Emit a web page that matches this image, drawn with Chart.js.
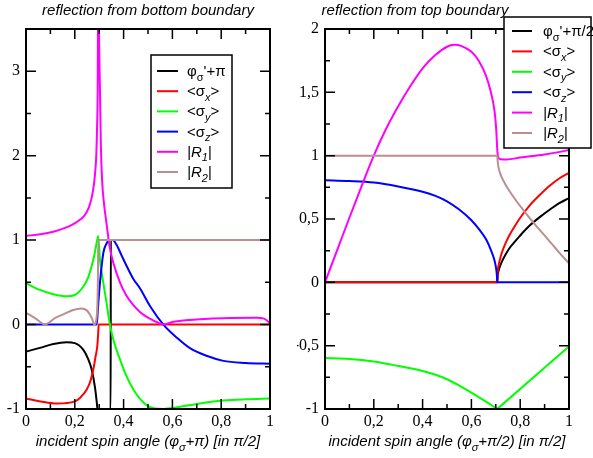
<!DOCTYPE html>
<html>
<head>
<meta charset="utf-8">
<script src="https://cdn.jsdelivr.net/npm/chart.js@4.4.1/dist/chart.umd.min.js"></script>
<style>
    body { margin: 0; background: #ffffff; }
    canvas { position: absolute; top: 0; }
    #bottomChart { left: 0; }
    #topChart { left: 297px; }
</style>
</head>
<body>
<canvas id="bottomChart" width="297" height="458"></canvas>
<canvas id="topChart" width="296" height="458"></canvas>
<script>
// TICKS
const xTicks = [0, 0.2, 0.4, 0.6, 0.8, 1];
const bottomYTicks = [-1, 0, 1, 2, 3];
const topYTicks = [-1, -0.5, 0, 0.5, 1, 1.5, 2];

// DATA - reflection from bottom boundary  [x, y]
const bottomPhase = [[0,-0.32],[0.057,-0.276],[0.112,-0.23],[0.167,-0.21],[0.2,-0.22],[0.235,-0.3],[0.255,-0.41],[0.269,-0.53],[0.283,-0.75],[0.29,-0.92],[0.293,-1],[0.347,-1],[0.3475,1],[1,1]];
const bottomSx = [[0,-0.876],[0.06,-0.91],[0.126,-0.935],[0.2,-0.91],[0.221,-0.87],[0.249,-0.77],[0.265,-0.66],[0.276,-0.53],[0.285,-0.38],[0.292,-0.26],[0.296,-0.1],[0.298,0],[1,0]];
const bottomSy = [[0,0.49],[0.057,0.41],[0.112,0.36],[0.167,0.335],[0.2,0.35],[0.235,0.45],[0.255,0.56],[0.269,0.69],[0.28,0.82],[0.287,0.93],[0.293,1.02],[0.296,1.05],[0.303,0.77],[0.317,0.49],[0.33,0.26],[0.344,0],[0.36,-0.2],[0.385,-0.41],[0.41,-0.6],[0.44,-0.77],[0.47,-0.89],[0.501,-0.97],[0.53,-0.995],[0.563,-1.0],[0.62,-0.98],[0.7,-0.94],[0.81,-0.9],[0.9,-0.885],[1,-0.876]];
const bottomSz = [[0,0],[0.29,0],[0.295,0.2],[0.303,0.49],[0.317,0.85],[0.33,0.96],[0.345,1.0],[0.355,1.0],[0.37,0.95],[0.39,0.83],[0.413,0.69],[0.44,0.54],[0.467,0.43],[0.508,0.22],[0.563,0],[0.62,-0.16],[0.672,-0.28],[0.74,-0.37],[0.809,-0.43],[0.9,-0.455],[1,-0.465]];
const bottomR1 = [[0,1.05],[0.06,1.07],[0.112,1.1],[0.16,1.145],[0.194,1.19],[0.221,1.24],[0.242,1.3],[0.258,1.39],[0.269,1.5],[0.278,1.65],[0.284,1.82],[0.288,2.0],[0.291,2.3],[0.294,2.85],[0.2965,4.5],[0.299,3.5],[0.303,2.8],[0.307,2.1],[0.312,1.7],[0.319,1.45],[0.328,1.24],[0.336,1.06],[0.344,0.9],[0.36,0.71],[0.385,0.5],[0.41,0.35],[0.44,0.23],[0.467,0.15],[0.49,0.1],[0.508,0.07],[0.535,0.03],[0.563,0],[0.6,0.03],[0.672,0.055],[0.809,0.075],[0.945,0.08],[0.975,0.07],[0.993,0.035],[1,0.01]];
const bottomR2 = [[0,0.14],[0.04,0.07],[0.078,0],[0.12,0.08],[0.153,0.12],[0.19,0.17],[0.228,0.19],[0.25,0.165],[0.262,0.12],[0.272,0.06],[0.279,0],[0.29,0.1],[0.295,0.6],[0.296,1],[1,1]];

// DATA - reflection from top boundary  [x, y]
const topPhase = [[0,0],[0.706,0],[0.708,0.06],[0.712,0.095],[0.717,0.125],[0.724,0.16],[0.74,0.22],[0.758,0.275],[0.78,0.325],[0.8,0.37],[0.84,0.45],[0.88,0.515],[0.922,0.575],[0.96,0.625],[1,0.665]];
const topSx = [[0,0],[0.706,0],[0.708,0.09],[0.712,0.14],[0.717,0.18],[0.724,0.23],[0.74,0.31],[0.758,0.38],[0.78,0.45],[0.8,0.51],[0.84,0.61],[0.88,0.69],[0.922,0.765],[0.96,0.82],[1,0.864]];
const topSy = [[0,-0.598],[0.1,-0.605],[0.2,-0.625],[0.3,-0.66],[0.4,-0.7],[0.45,-0.728],[0.5,-0.765],[0.55,-0.815],[0.6,-0.87],[0.65,-0.93],[0.69,-0.98],[0.703,-0.997],[0.706,-1],[0.709,-0.995],[1,-0.506]];
const topSz = [[0,0.806],[0.1,0.8],[0.2,0.788],[0.3,0.757],[0.4,0.715],[0.45,0.685],[0.5,0.64],[0.55,0.575],[0.6,0.49],[0.635,0.41],[0.66,0.34],[0.68,0.255],[0.695,0.17],[0.702,0.1],[0.705,0.04],[0.706,0],[1,0]];
const topR1 = [[0,0],[0.05,0.255],[0.1,0.51],[0.15,0.76],[0.2,1.0],[0.25,1.21],[0.3,1.39],[0.35,1.55],[0.4,1.69],[0.45,1.79],[0.5,1.86],[0.53,1.875],[0.56,1.865],[0.6,1.82],[0.63,1.75],[0.66,1.63],[0.68,1.5],[0.695,1.35],[0.702,1.2],[0.706,1.05],[0.71,0.985],[0.72,0.972],[0.745,0.97],[0.8,0.985],[0.9,1.01],[0.963,1.03],[1,1.045]];
const topR2 = [[0,1],[0.706,1],[0.708,0.95],[0.712,0.9],[0.718,0.86],[0.724,0.83],[0.74,0.77],[0.758,0.715],[0.785,0.64],[0.813,0.57],[0.84,0.505],[0.868,0.44],[0.9,0.37],[0.922,0.32],[0.96,0.235],[1,0.15]];

const colors = ["#000000", "#ff0000", "#00ff00", "#0000ff", "#ff00ff", "#bc8f8f"];

// LABELS (parts: t = text, sub = subscript, it = italic)
const pSx = [{ t: "<σ" }, { t: "x", sub: true, it: true }, { t: ">" }];
const pSy = [{ t: "<σ" }, { t: "y", sub: true, it: true }, { t: ">" }];
const pSz = [{ t: "<σ" }, { t: "z", sub: true, it: true }, { t: ">" }];
const pR1 = [{ t: "|R", it: true }, { t: "1", sub: true, it: true }, { t: "|", it: true }];
const pR2 = [{ t: "|R", it: true }, { t: "2", sub: true, it: true }, { t: "|", it: true }];
const bottomLegend = [[{ t: "φ" }, { t: "σ", sub: true }, { t: "'+π" }], pSx, pSy, pSz, pR1, pR2];
const topLegend = [[{ t: "φ" }, { t: "σ", sub: true }, { t: "'+π/2" }], pSx, pSy, pSz, pR1, pR2];
const bottomXTitle = [{ t: "incident spin angle (φ", it: true }, { t: "σ", sub: true, it: true }, { t: "+π) [in π/2]", it: true }];
const topXTitle = [{ t: "incident spin angle (φ", it: true }, { t: "σ", sub: true, it: true }, { t: "+π/2) [in π/2]", it: true }];

// TEXT HELPER
function richText(ctx, parts, x, y, size, align) {
    const fontFor = (p) => `${p.it ? "italic " : ""}${p.sub ? Math.round(size * 0.7) : size}px "Liberation Sans", Arial, sans-serif`;
    let total = 0;
    const widths = parts.map((p) => {
        ctx.font = fontFor(p);
        const w = ctx.measureText(p.t).width;
        total += w;
        return w;
    });
    let cx = align === "center" ? x - total / 2 : x;
    ctx.textAlign = "left";
    ctx.textBaseline = "alphabetic";
    parts.forEach((p, i) => {
        ctx.font = fontFor(p);
        ctx.fillText(p.t, cx, p.sub ? y + size * 0.3 : y);
        cx += widths[i];
    });
}

// FRAME + INWARD TICKS + LEGEND + TITLES
const decorPlugin = {
    id: "decor",
    afterDatasetsDraw(chart, args, o) {
        const ctx = chart.ctx;
        const a = chart.chartArea;
        const xs = chart.scales.x, ys = chart.scales.y;
        ctx.save();
        ctx.strokeStyle = "#000";
        ctx.lineWidth = 1.5;
        ctx.beginPath();
        const tickX = (v, len) => {
            const px = xs.getPixelForValue(v);
            ctx.moveTo(px, a.bottom); ctx.lineTo(px, a.bottom - len);
            ctx.moveTo(px, a.top); ctx.lineTo(px, a.top + len);
        };
        const tickY = (v, len) => {
            const py = ys.getPixelForValue(v);
            ctx.moveTo(a.left, py); ctx.lineTo(a.left + len, py);
            ctx.moveTo(a.right, py); ctx.lineTo(a.right - len, py);
        };
        for (let v = xs.min; v <= xs.max + 1e-9; v += o.minorX) {
            const major = xTicks.some((t) => Math.abs(t - v) < 1e-6);
            tickX(v, major ? 10 : 5);
        }
        for (let v = ys.min; v <= ys.max + 1e-9; v += o.minorY) {
            const major = o.yTicks.some((t) => Math.abs(t - v) < 1e-6);
            tickY(v, major ? 10 : 5);
        }
        ctx.stroke();
        ctx.lineWidth = 2;
        ctx.strokeRect(a.left, a.top, a.right - a.left, a.bottom - a.top);
        ctx.restore();
    },
    afterDraw(chart, args, o) {
        const ctx = chart.ctx;
        const a = chart.chartArea;
        ctx.save();
        ctx.fillStyle = "#000";
        // title + axis title
        richText(ctx, [{ t: o.title, it: true }], o.titleX, 15, 15, "center");
        richText(ctx, o.xTitle, (a.left + a.right) / 2, 446, 15, "center");
        // legend box
        const b = o.box;
        ctx.fillStyle = "#fff";
        ctx.fillRect(b.x, b.y, b.w, b.h);
        ctx.strokeStyle = "#000";
        ctx.lineWidth = 1.5;
        ctx.strokeRect(b.x, b.y, b.w, b.h);
        o.items.forEach((parts, i) => {
            const y = b.row0 + i * b.rowGap;
            ctx.strokeStyle = colors[i];
            ctx.lineWidth = 2;
            ctx.beginPath();
            ctx.moveTo(b.lineX, y);
            ctx.lineTo(b.lineX + b.lineW, y);
            ctx.stroke();
            ctx.fillStyle = "#000";
            richText(ctx, parts, b.textX, y + 5, 15, "left");
        });
        ctx.restore();
    },
};

// CHART BUILDER
function makeDatasets(list) {
    return list.map((d, i) => ({
        data: d.map(([x, y]) => ({ x, y })),
        borderColor: colors[i],
        borderWidth: 2,
        pointRadius: 0,
        fill: false,
        cubicInterpolationMode: "monotone",
        order: list.length - i,
    }));
}

const fmt = (v) => String(v).replace(".", ",");

function makeChart(id, series, yMin, yMax, yTicks, yWidth, padRight, decor) {
    return new Chart(document.getElementById(id), {
        type: "line",
        data: { datasets: makeDatasets(series) },
        plugins: [decorPlugin],
        options: {
            responsive: false,
            animation: false,
            devicePixelRatio: 1,
            layout: { padding: { top: 29, right: padRight, left: 0, bottom: 0 } },
            plugins: { legend: { display: false }, tooltip: { enabled: false }, decor },
            scales: {
                x: {
                    type: "linear", min: 0, max: 1,
                    afterBuildTicks: (s) => { s.ticks = xTicks.map((v) => ({ value: v })); },
                    afterFit: (s) => { s.height = 49; },
                    grid: { display: false, drawTicks: false },
                    border: { display: false },
                    ticks: { padding: 3, color: "#000", maxRotation: 0, font: { family: '"Liberation Serif", "Times New Roman", serif', size: 16 }, callback: fmt },
                },
                y: {
                    type: "linear", min: yMin, max: yMax,
                    afterBuildTicks: (s) => { s.ticks = yTicks.map((v) => ({ value: v })); },
                    afterFit: (s) => { s.width = yWidth; },
                    grid: { display: false, drawTicks: false },
                    border: { display: false },
                    ticks: { padding: 6, color: "#000", font: { family: '"Liberation Serif", "Times New Roman", serif', size: 16 }, callback: fmt },
                },
            },
        },
    });
}

// INIT
makeChart("bottomChart", [bottomPhase, bottomSx, bottomSy, bottomSz, bottomR1, bottomR2], -1, 3.5, bottomYTicks, 26, 27, {
    title: "reflection from bottom boundary", titleX: 148, xTitle: bottomXTitle,
    minorX: 0.1, minorY: 0.5, yTicks: bottomYTicks, items: bottomLegend,
    box: { x: 151, y: 55, w: 81, h: 133, row0: 71, rowGap: 20.2, lineX: 157, lineW: 21, textX: 187 },
});
makeChart("topChart", [topPhase, topSx, topSy, topSz, topR1, topR2], -1, 2, topYTicks, 28, 24, {
    title: "reflection from top boundary", titleX: 118, xTitle: topXTitle,
    minorX: 0.1, minorY: 0.25, yTicks: topYTicks, items: topLegend,
    box: { x: 207, y: 17, w: 87, h: 131, row0: 31, rowGap: 20.4, lineX: 215, lineW: 20, textX: 246 },
});
</script>
</body>
</html>
